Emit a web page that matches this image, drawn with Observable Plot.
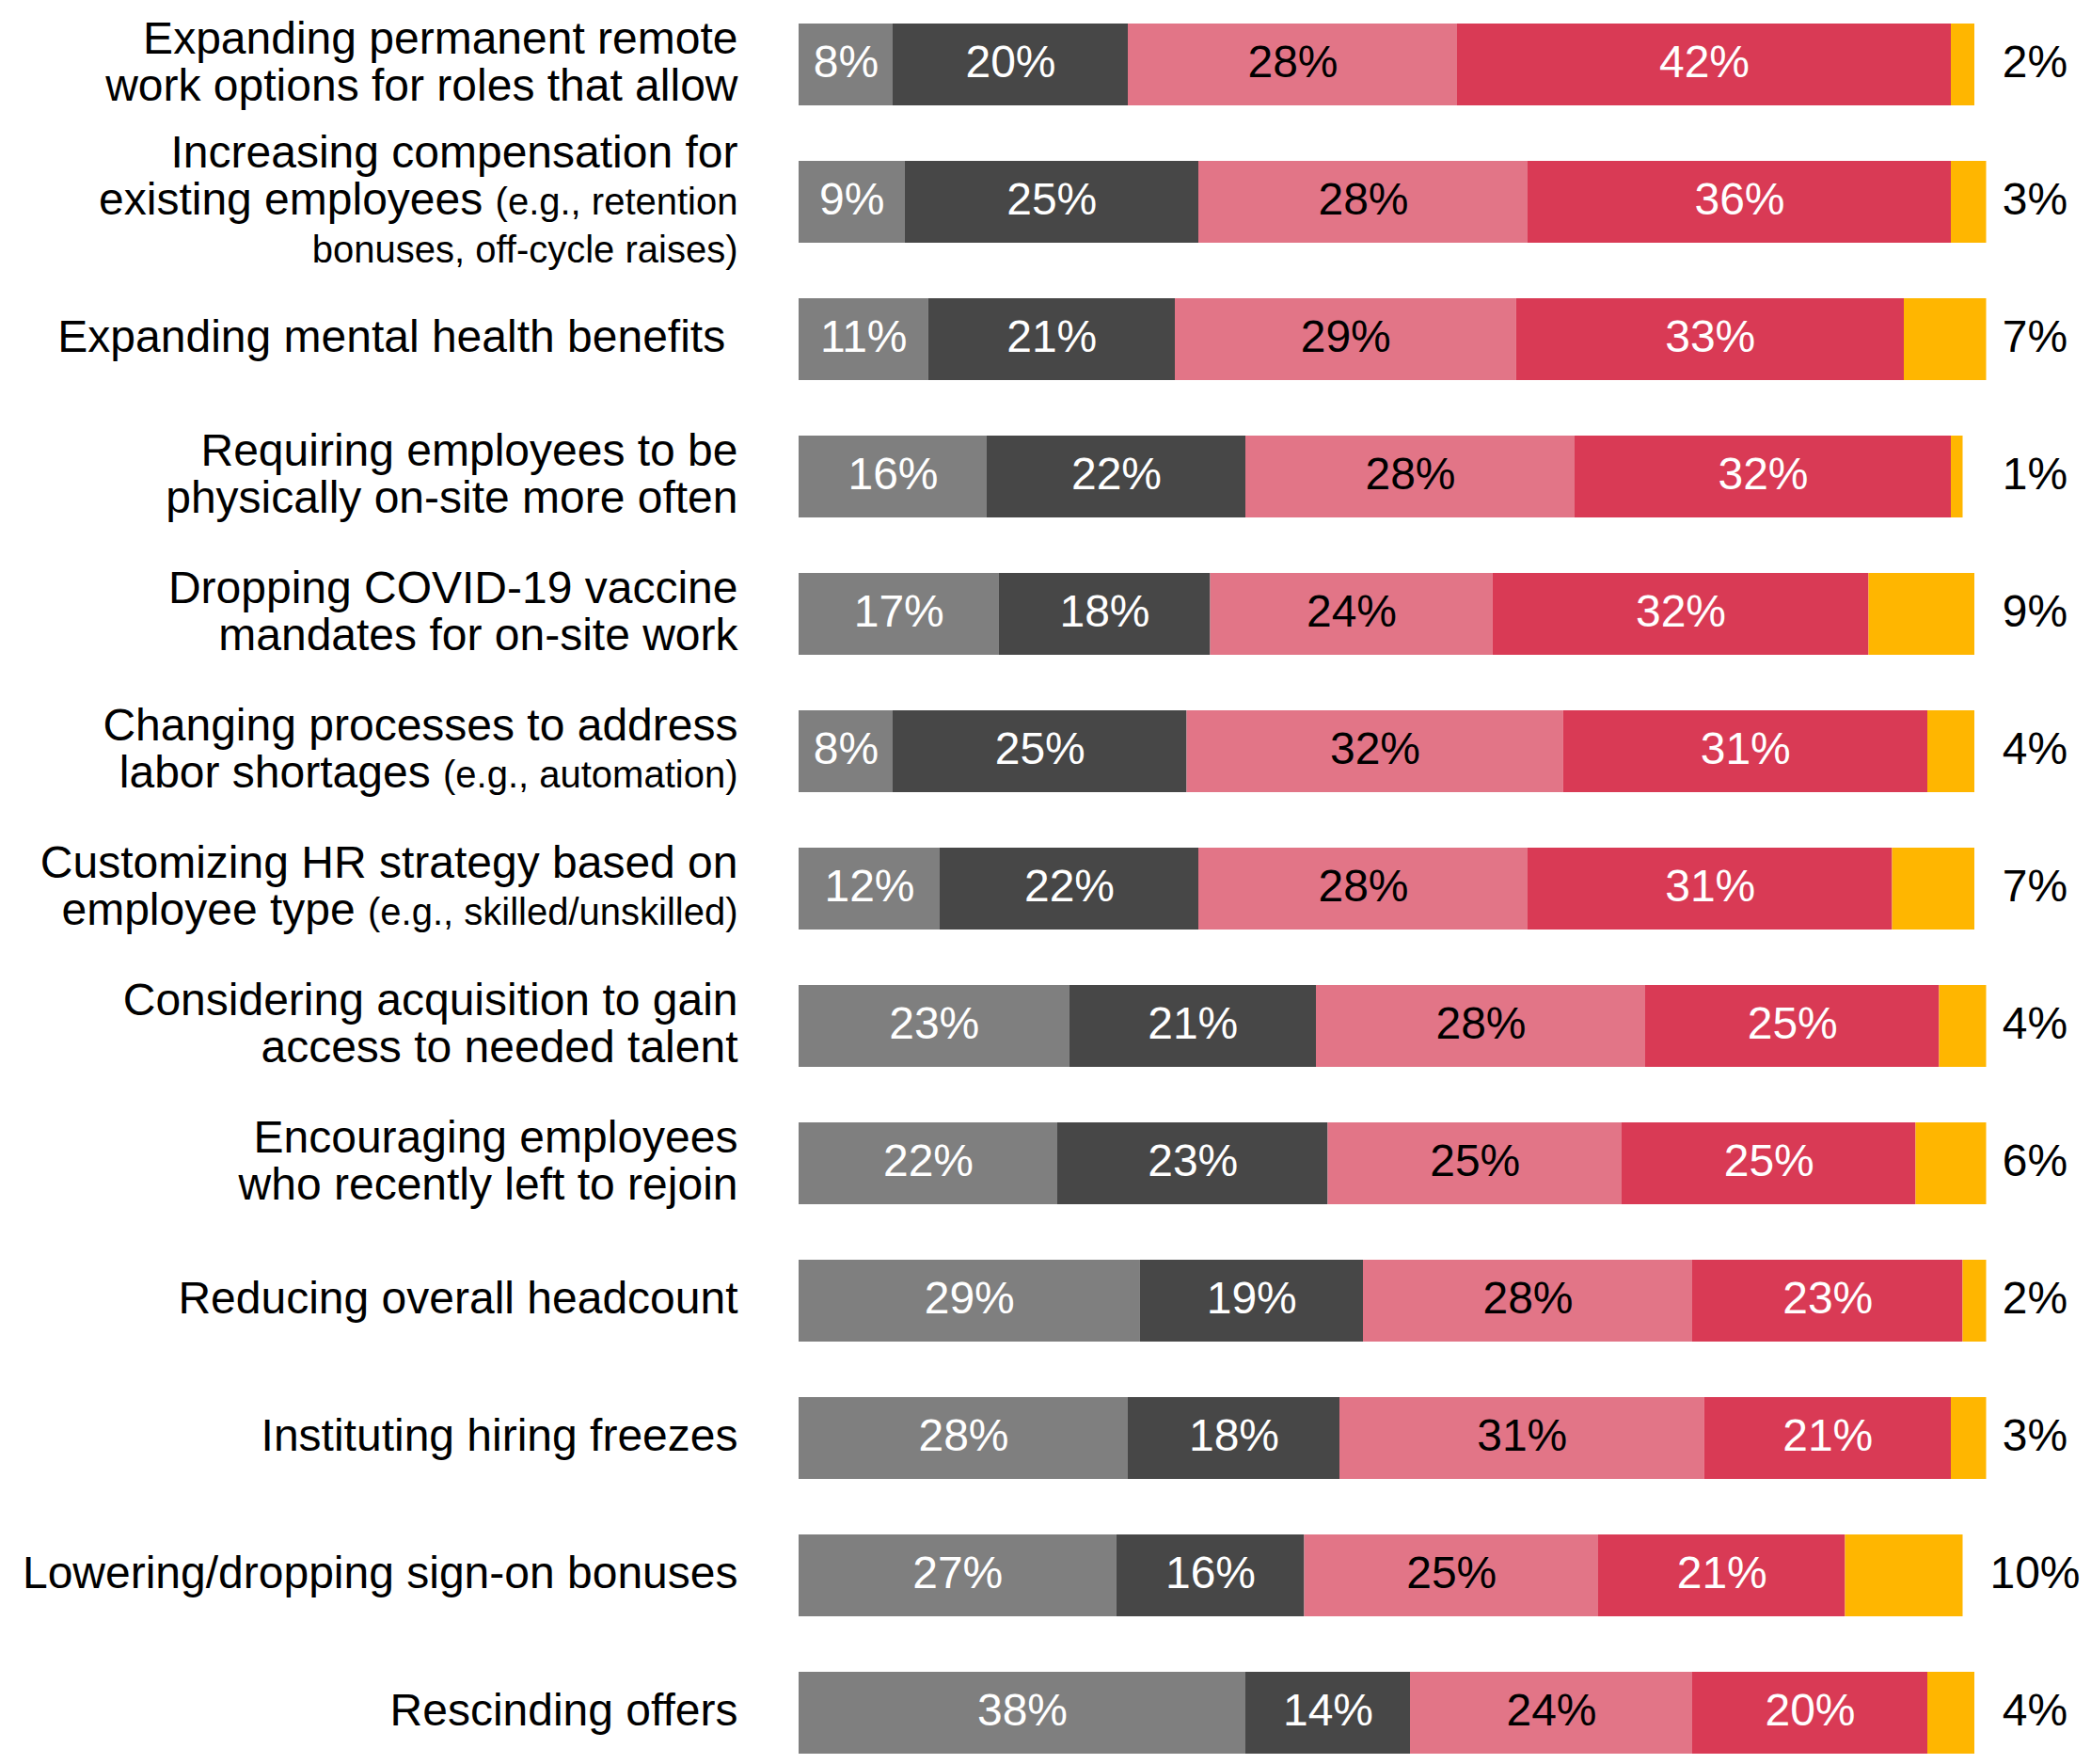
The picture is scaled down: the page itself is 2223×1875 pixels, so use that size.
<!DOCTYPE html>
<html>
<head>
<meta charset="utf-8">
<script src="https://cdn.jsdelivr.net/npm/d3@7"></script>
<script src="https://cdn.jsdelivr.net/npm/@observablehq/plot@0.6"></script>
<style>
  html, body { margin: 0; padding: 0; background: #fff; }
  #chart { width: 2223px; height: 1875px; }
</style>
</head>
<body>
<div id="chart"></div>
<script>
// ---- Data ----
const labels = [
  "Expanding permanent remote\nwork options for roles that allow",
  "Increasing compensation for\nexisting employees (e.g., retention\nbonuses, off-cycle raises)",
  "Expanding mental health benefits\u00a0",
  "Requiring employees to be\nphysically on-site more often",
  "Dropping COVID-19 vaccine\nmandates for on-site work",
  "Changing processes to address\nlabor shortages (e.g., automation)",
  "Customizing HR strategy based on\nemployee type (e.g., skilled/unskilled)",
  "Considering acquisition to gain\naccess to needed talent",
  "Encouraging employees\nwho recently left to rejoin",
  "Reducing overall headcount",
  "Instituting hiring freezes",
  "Lowering/dropping sign-on bonuses",
  "Rescinding offers"
];
// small-print parts of the labels
const notes = ["(e.g., retention", "bonuses, off-cycle raises)", "(e.g., automation)", "(e.g., skilled/unskilled)"];

const series = ["Gray", "Dark gray", "Pink", "Red", "Yellow"];
const colors = ["#7f7f7f", "#474747", "#e27587", "#d93a55", "#ffb600"];

const grayValues     = [8, 9, 11, 16, 17, 8, 12, 23, 22, 29, 28, 27, 38];
const darkGrayValues = [20, 25, 21, 22, 18, 25, 22, 21, 23, 19, 18, 16, 14];
const pinkValues     = [28, 28, 29, 28, 24, 32, 28, 28, 25, 28, 31, 25, 24];
const redValues      = [42, 36, 33, 32, 32, 31, 31, 25, 25, 23, 21, 21, 20];
const yellowValues   = [2, 3, 7, 1, 9, 4, 7, 4, 6, 2, 3, 10, 4];

const valuesBySeries = [grayValues, darkGrayValues, pinkValues, redValues, yellowValues];
const data = [];
labels.forEach((label, i) => {
  series.forEach((s, j) => data.push({label, series: s, value: valuesBySeries[j][i]}));
});

const fmt = d => `${d.value}%`;
const FONT = "'Liberation Sans', Arial, Helvetica, sans-serif";
const FS = 48;

const chart = Plot.plot({
  width: 2223,
  height: 1875,
  marginLeft: 849,
  marginRight: 124,
  marginTop: 22,
  marginBottom: 8,
  style: {fontFamily: FONT, background: "#fff", color: "#000"},
  x: {domain: [0, 100], axis: null},
  y: {domain: labels, axis: null, paddingInner: 0.406, paddingOuter: 0, align: 0.5},
  color: {domain: series, range: colors},
  marks: [
    Plot.barX(data, Plot.stackX({x: "value", y: "label", fill: "series"})),
    Plot.text(data, Plot.filter(d => d.series === "Gray" || d.series === "Dark gray" || d.series === "Red",
      Plot.stackX({x: "value", y: "label", text: fmt, fill: "white", fontSize: FS, dy: -2}))),
    Plot.text(data, Plot.filter(d => d.series === "Pink",
      Plot.stackX({x: "value", y: "label", text: fmt, fill: "black", fontSize: FS, dy: -2}))),
    Plot.text(data.filter(d => d.series === "Yellow"), {
      y: "label", text: fmt, frameAnchor: "right", dx: 64, dy: -2, textAnchor: "middle", fill: "black", fontSize: FS
    }),
    Plot.text(labels, {
      y: d => d, text: d => d, frameAnchor: "left", dx: -65, dy: -3, textAnchor: "end",
      fill: "black", fontSize: FS, lineHeight: 1.05
    })
  ]
});

// render small-print parentheticals at a smaller size
chart.querySelectorAll("tspan").forEach(ts => {
  const t = ts.textContent;
  for (const note of notes) {
    const idx = t.indexOf(note);
    if (idx >= 0) {
      ts.textContent = t.slice(0, idx);
      const sub = document.createElementNS("http://www.w3.org/2000/svg", "tspan");
      sub.setAttribute("font-size", 40);
      sub.textContent = note;
      ts.appendChild(sub);
      break;
    }
  }
});

document.getElementById("chart").appendChild(chart);
</script>
</body>
</html>
